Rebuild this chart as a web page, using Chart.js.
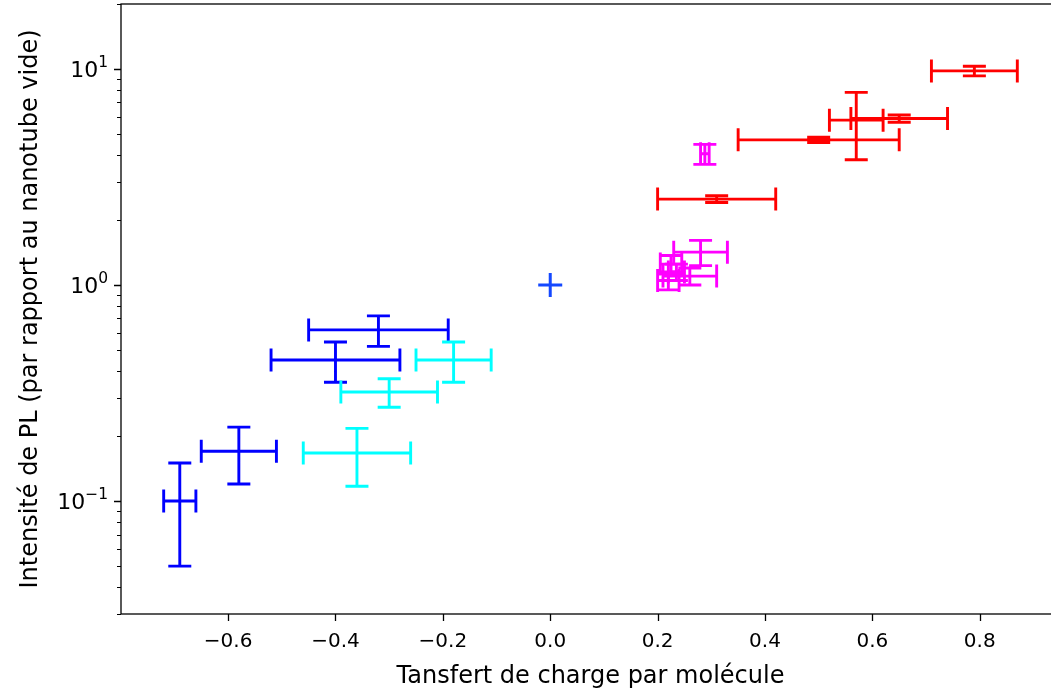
<!DOCTYPE html>
<html><head><meta charset="utf-8">
<script src="https://cdn.jsdelivr.net/npm/chart.js@4/dist/chart.umd.min.js"></script>
<style>html,body{margin:0;padding:0;overflow:hidden;background:#fff}canvas{display:block}</style>
</head><body>
<canvas id="c" width="1062" height="695"></canvas>
<script>
// ---- data ----
const blueX    = [-0.69, -0.58, -0.40, -0.32];
const blueXerr = [0.03, 0.07, 0.12, 0.13];
const blueY    = [0.10, 0.17, 0.45, 0.62];
const blueYerr = [0.05, 0.05, 0.095, 0.10];

const cyanX    = [-0.18, -0.30, -0.36];
const cyanXerr = [0.07, 0.09, 0.10];
const cyanY    = [0.45, 0.32, 0.167];
const cyanYerr = [0.095, 0.048, 0.05];

const magX    = [0.288, 0.28, 0.26, 0.225, 0.22, 0.235];
const magXerr = [0.008, 0.05, 0.05, 0.02, 0.02, 0.015];
const magY    = [4.05, 1.42, 1.10, 1.25, 1.05, 1.15];
const magYerr = [0.43, 0.19, 0.10, 0.12, 0.10, 0.10];

const redX    = [0.79, 0.57, 0.65, 0.50, 0.31];
const redXerr = [0.08, 0.05, 0.09, 0.15, 0.11];
const redY    = [9.8, 5.8, 5.9, 4.7, 2.5];
const redYerr = [0.5, 2.0, 0.23, 0.13, 0.09];

const refX = [0.0];
const refY = [1.0];

const xTickVals = [-0.6, -0.4, -0.2, 0.0, 0.2, 0.4, 0.6, 0.8];
const yMajorVals = [0.1, 1, 10];
const yMajorBase = '10';
const yMajorExps = ['\u22121', '0', '1'];
const yMinorVals = [0.03,0.04,0.05,0.06,0.07,0.08,0.09,0.2,0.3,0.4,0.5,0.6,0.7,0.8,0.9,2,3,4,5,6,7,8,9,20];

const xLabel = 'Tansfert de charge par molécule';
const yLabel = 'Intensité de PL (par rapport au nanotube vide)';

// ---- helpers ----
function pts(xs, ys){ return xs.map((v,i)=>({x:v, y:ys[i]})); }
function errSet(xs, ys, xe, ye, color){
  return {data: pts(xs, ys), xerr: xe, yerr: ye, barColor: color,
          pointRadius: 0, showLine: false, borderColor: color, backgroundColor: color};
}

const FONT = 'DejaVu Sans';
const LW = 2.9, CAP = 11.5;
const errorBars = {
  id: 'errorBars',
  afterDatasetsDraw(chart){
    const ctx = chart.ctx, xs = chart.scales.x, ys = chart.scales.y;
    chart.data.datasets.forEach(ds => {
      if (!ds.xerr) return;
      ctx.save();
      ctx.strokeStyle = ds.barColor; ctx.lineWidth = LW; ctx.lineCap = 'butt';
      ds.data.forEach((p, i) => {
        const px = xs.getPixelForValue(p.x), py = ys.getPixelForValue(p.y);
        const x0 = xs.getPixelForValue(p.x - ds.xerr[i]), x1 = xs.getPixelForValue(p.x + ds.xerr[i]);
        const y0 = ys.getPixelForValue(p.y - ds.yerr[i]), y1 = ys.getPixelForValue(p.y + ds.yerr[i]);
        ctx.beginPath();
        ctx.moveTo(x0, py); ctx.lineTo(x1, py);
        ctx.moveTo(px, y0); ctx.lineTo(px, y1);
        ctx.moveTo(x0, py - CAP); ctx.lineTo(x0, py + CAP);
        ctx.moveTo(x1, py - CAP); ctx.lineTo(x1, py + CAP);
        ctx.moveTo(px - CAP, y0); ctx.lineTo(px + CAP, y0);
        ctx.moveTo(px - CAP, y1); ctx.lineTo(px + CAP, y1);
        ctx.stroke();
      });
      ctx.restore();
    });
  }
};

const frameTicks = {
  id: 'frameTicks',
  afterDraw(chart){
    const ctx = chart.ctx, a = chart.chartArea, xs = chart.scales.x, ys = chart.scales.y;
    ctx.save();
    ctx.strokeStyle = '#000'; ctx.lineWidth = 1.3;
    ctx.strokeRect(a.left, a.top, a.right - a.left, a.bottom - a.top);
    ctx.beginPath();
    xTickVals.forEach(v => { const px = Math.round(xs.getPixelForValue(v)) + 0.5; ctx.moveTo(px, a.bottom); ctx.lineTo(px, a.bottom + 7); });
    yMajorVals.forEach(v => { const py = Math.round(ys.getPixelForValue(v)) + 0.5; ctx.moveTo(a.left, py); ctx.lineTo(a.left - 7, py); });
    ctx.stroke();
    ctx.lineWidth = 1.0;
    ctx.beginPath();
    yMinorVals.forEach(v => { const py = Math.round(ys.getPixelForValue(v)) + 0.5; ctx.moveTo(a.left, py); ctx.lineTo(a.left - 4, py); });
    ctx.stroke();
    // y tick labels with superscript exponents
    ctx.fillStyle = '#000';
    ctx.textBaseline = 'alphabetic';
    ctx.textAlign = 'right';
    yMajorVals.forEach((v, i) => {
      const py = ys.getPixelForValue(v);
      const right = a.left - 13;
      ctx.font = '15.5px "' + FONT + '"';
      const ew = ctx.measureText(yMajorExps[i]).width;
      const base = py + 8;
      ctx.fillText(yMajorExps[i], right, base - 10);
      ctx.font = '22px "' + FONT + '"';
      ctx.fillText(yMajorBase, right - ew, base);
    });
    ctx.restore();
  }
};

new Chart(document.getElementById('c'), {
  type: 'scatter',
  data: {
    datasets: [
      errSet(blueX, blueY, blueXerr, blueYerr, '#0000ff'),
      errSet(cyanX, cyanY, cyanXerr, cyanYerr, '#00ffff'),
      errSet(magX, magY, magXerr, magYerr, '#ff00ff'),
      errSet(redX, redY, redXerr, redYerr, '#ff0000'),
      {data: pts(refX, refY), pointStyle: 'cross', pointRadius: 12, borderWidth: 3,
       borderColor: '#1448ff', backgroundColor: '#1448ff', showLine: false}
    ]
  },
  options: {
    responsive: false, animation: false, events: [],
    devicePixelRatio: 1,
    layout: {autoPadding: false, padding: {top: 4, right: 2, left: 0, bottom: 0}},
    plugins: {legend: {display: false}, tooltip: {enabled: false}},
    scales: {
      x: {
        type: 'linear', min: -0.7995, max: 0.9495,
        afterBuildTicks: s => { s.ticks = xTickVals.map(v => ({value: v})); },
        afterFit: s => { s.height = 81; s.paddingLeft = 0; s.paddingRight = 0; s.paddingTop = 0; s.paddingBottom = 0; },
        grid: {drawOnChartArea: false, drawTicks: true, tickLength: 7, tickColor: 'rgba(0,0,0,0)'},
        border: {display: false},
        ticks: {color: '#000', padding: 9, maxRotation: 0, autoSkip: false,
                font: {family: FONT, size: 20},
                callback: v => (v < 0 ? '\u2212' : '') + Math.abs(v).toFixed(1)},
        title: {display: true, text: xLabel, color: '#000',
                font: {family: FONT, size: 24, lineHeight: 1.2}, padding: {top: 0, bottom: 4}}
      },
      y: {
        type: 'logarithmic', min: 0.03, max: 20,
        afterBuildTicks: s => { s.ticks = yMajorVals.map(v => ({value: v, major: true})); },
        afterFit: s => { s.width = 121; s.paddingTop = 0; s.paddingBottom = 0; s.paddingLeft = 0; s.paddingRight = 0; },
        grid: {drawOnChartArea: false, drawTicks: true, tickLength: 7, tickColor: 'rgba(0,0,0,0)'},
        border: {display: false},
        ticks: {color: '#000', padding: 6, autoSkip: false,
                font: {family: FONT, size: 20},
                callback: () => ''},
        title: {display: true, text: yLabel, color: '#000',
                font: {family: FONT, size: 24, lineHeight: 1.2}, padding: {top: 16, bottom: 0}}
      }
    }
  },
  plugins: [errorBars, frameTicks]
});
</script>
</body></html>
